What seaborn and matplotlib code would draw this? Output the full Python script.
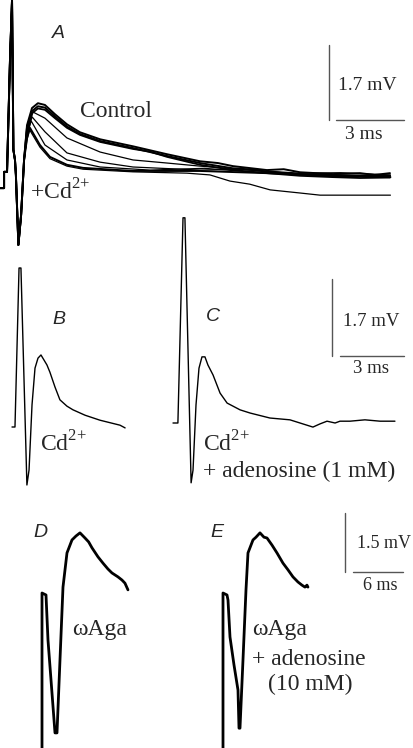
import matplotlib
matplotlib.use('Agg')
import matplotlib.pyplot as plt
import seaborn as sns

# ---- data (time in ms, voltage in mV, baseline = 0) ----

# A: shared stimulus artefact / fibre volley, then one decay per sweep
spikeA_t = [0.00, 0.18, 0.18, 0.31, 0.44, 0.53, 0.59, 0.66, 0.70, 0.81, 0.93, 1.06]
spikeA_v = [-0.23, -0.23, 0.14, 0.14, 2.68, 4.05, 0.64, 0.41, 0.07, -1.52, -0.84, 0.41]

ctrl1_t = [1.19, 1.41, 1.67, 1.98, 2.42, 2.95, 3.52, 4.41, 5.86, 7.36, 8.81, 9.6, 10.26, 11.76, 12.5, 13.22, 14.67, 15.86, 16.5, 17.18]
ctrl1_v = [1.20, 1.59, 1.70, 1.66, 1.45, 1.22, 1.04, 0.88, 0.72, 0.54, 0.38, 0.34, 0.27, 0.18, 0.20, 0.13, 0.09, 0.11, 0.07, 0.11]
ctrl2_t = [1.19, 1.41, 1.67, 1.98, 2.42, 2.95, 3.52, 4.41, 5.86, 7.36, 8.81, 10.26, 11.2, 11.76, 13.22, 14.67, 15.86, 17.18]
ctrl2_v = [1.15, 1.52, 1.63, 1.60, 1.40, 1.17, 1.00, 0.84, 0.68, 0.50, 0.34, 0.22, 0.19, 0.14, 0.08, 0.04, 0.05, 0.05]
ctrl3_t = [1.19, 1.41, 1.67, 1.98, 2.42, 2.95, 3.52, 4.41, 5.86, 6.6, 7.36, 8.81, 10.26, 11.76, 13.22, 14.67, 15.86, 17.18]
ctrl3_v = [1.10, 1.47, 1.58, 1.55, 1.36, 1.14, 0.98, 0.82, 0.66, 0.60, 0.48, 0.30, 0.18, 0.11, 0.05, 0.02, 0.00, 0.01]
mid1_t = [1.19, 1.45, 1.98, 2.95, 4.41, 5.86, 7.36, 8.81, 11.0, 13.2, 15.0, 17.2]
mid1_v = [1.05, 1.50, 1.36, 0.91, 0.59, 0.41, 0.34, 0.27, 0.18, 0.11, 0.12, 0.07]
mid2_t = [1.19, 1.41, 1.98, 2.95, 4.41, 5.86, 8.81, 10.5, 13.2, 17.2]
mid2_v = [1.00, 1.39, 1.05, 0.57, 0.36, 0.25, 0.18, 0.20, 0.09, 0.05]
mid3_t = [1.19, 1.37, 1.98, 2.95, 4.41, 6.61, 9.0, 11.0, 17.2]
mid3_v = [0.95, 1.30, 0.75, 0.41, 0.25, 0.18, 0.22, 0.14, 0.02]
cd1_t = [1.19, 1.32, 1.76, 2.20, 2.95, 3.66, 5.86, 8.81, 11.76, 14.5, 17.2]
cd1_v = [0.90, 1.14, 0.75, 0.48, 0.30, 0.23, 0.16, 0.16, 0.11, 0.05, 0.02]
cd2_t = [1.19, 1.30, 1.76, 2.20, 2.95, 3.66, 5.86, 8.24, 9.25, 10.13, 11.0, 11.9, 13.2, 14.1, 17.2]
cd2_v = [0.88, 1.10, 0.70, 0.44, 0.27, 0.20, 0.14, 0.11, 0.07, -0.07, -0.14, -0.27, -0.34, -0.39, -0.39]

# B: Cd2+
B_t = [0.00, 0.14, 0.33, 0.42, 0.70, 0.80, 0.94, 1.08, 1.22, 1.36, 1.50, 1.64, 1.78, 2.02, 2.25, 2.58, 2.86, 3.43, 4.13, 5.07, 5.31]
B_v = [0.00, 0.00, 3.51, 3.51, -1.28, -0.95, 0.49, 1.30, 1.52, 1.59, 1.48, 1.37, 1.21, 0.88, 0.60, 0.46, 0.38, 0.26, 0.15, 0.04, -0.02]

# C: Cd2+ + adenosine (1 mM)
C_t = [0.00, 0.23, 0.47, 0.56, 0.85, 0.94, 1.08, 1.22, 1.36, 1.50, 1.64, 1.88, 2.21, 2.54, 3.15, 3.62, 4.55, 5.49,
       6.57, 6.90, 7.23, 7.61, 7.84, 8.31, 9.01, 9.72, 10.42]
C_v = [0.00, 0.00, 4.53, 4.53, -1.32, -1.04, 0.40, 1.21, 1.46, 1.46, 1.28, 1.06, 0.66, 0.44, 0.29, 0.22, 0.11, 0.07,
       -0.09, -0.02, 0.04, 0.00, 0.04, 0.04, 0.07, 0.04, 0.04]

# D: omega-Aga
D_t = [0.00, 0.00, 0.48, 0.72, 1.08, 1.56, 1.80, 2.16, 2.52, 3.00, 3.60, 4.08, 4.56, 5.16, 5.6, 6.00, 6.72, 7.32,
       7.92, 8.40, 9.12, 9.60, 9.96, 10.32]
D_v = [-4.25, 0.00, -0.05, -1.20, -2.21, -3.56, -3.56, -1.70, 0.15, 1.02, 1.35, 1.45, 1.53, 1.40, 1.30, 1.15, 0.92,
       0.76, 0.61, 0.51, 0.41, 0.33, 0.25, 0.08]

# E: omega-Aga + adenosine (10 mM)
E_t = [0.00, 0.00, 0.48, 0.60, 0.84, 1.32, 1.80, 1.92, 2.04, 2.40, 2.76, 3.00, 3.60, 3.96, 4.44, 4.92, 5.28, 5.88,
       6.48, 7.20, 7.80, 8.40, 9.00, 9.48, 9.84, 10.08, 10.20]
E_v = [-4.25, 0.00, -0.05, -0.18, -1.12, -1.83, -2.47, -3.44, -3.44, -1.70, 0.08, 1.02, 1.35, 1.42, 1.53, 1.42, 1.40,
       1.22, 1.02, 0.76, 0.59, 0.41, 0.28, 0.20, 0.15, 0.20, 0.15]

# ---- figure ----
sns.set_style('white')
plt.rcParams['font.family'] = ['Liberation Serif', 'DejaVu Serif']
plt.rcParams['mathtext.fontset'] = 'custom'
plt.rcParams['mathtext.rm'] = 'Liberation Serif'

W, H = 413, 748
fig = plt.figure(figsize=(W / 100, H / 100), dpi=100)


def panel(name, x0, y0, kx, ky):
    # full-figure transparent axes, origin (t=0, v=0) at pixel (x0, y0)
    ax = fig.add_axes([0, 0, 1, 1], label=name)
    ax.set_xlim(-x0 / kx, (W - x0) / kx)
    ax.set_ylim((y0 - H) / ky, y0 / ky)
    ax.set_axis_off()
    ax.patch.set_alpha(0)
    return ax


def trace(ax, t, v, lw):
    sns.lineplot(x=t, y=v, ax=ax, color='black', lw=lw, sort=False, estimator=None)


def bar(ax, xs, ys):
    ax.plot(xs, ys, color='#555555', lw=1.0)


def label(x, y, s, size=17):
    fig.text(x / W, 1 - y / H, s, fontsize=size, va='baseline', ha='left')


def letter(x, y, s):
    fig.text(x / W, 1 - y / H, s, fontsize=14, va='baseline', ha='left',
             family='Liberation Sans', style='italic')


# A
axA = panel('A', 0, 178, 22.7, 44.0)
sweeps = [(ctrl1_t, ctrl1_v, 1.4), (ctrl2_t, ctrl2_v, 1.4), (ctrl3_t, ctrl3_v, 1.3),
          (mid1_t, mid1_v, 0.9), (mid2_t, mid2_v, 0.9), (mid3_t, mid3_v, 0.9),
          (cd1_t, cd1_v, 1.4), (cd2_t, cd2_v, 0.9)]
for t, v, lw in sweeps:
    trace(axA, spikeA_t + t, spikeA_v + v, lw)
bar(axA, [14.49, 14.49], [1.32, 3.02])
bar(axA, [14.80, 17.80], [1.32, 1.32])

# B, C
axB = panel('B', 12, 427, 21.3, 45.3)
trace(axB, B_t, B_v, 1.0)
axC = panel('C', 173, 423, 21.3, 45.3)
trace(axC, C_t, C_v, 1.0)
bar(axC, [7.46, 7.46], [1.48, 3.18])
bar(axC, [7.84, 10.84], [1.48, 1.48])

# D, E
axD = panel('D', 42, 593, 8.33, 39.3)
trace(axD, D_t, D_v, 2.0)
axE = panel('E', 223, 593, 8.33, 39.3)
trace(axE, E_t, E_v, 2.0)
bar(axE, [14.65, 14.65], [0.53, 2.03])
bar(axE, [15.61, 21.61], [0.53, 0.53])

# text
letter(52, 38, 'A')
letter(52, 324, 'B')
letter(206, 321, 'C')
letter(33, 537, 'D')
letter(210, 537, 'E')

cd = 'Cd$^{2{+}}$'
label(80, 117, 'Control')
label(30, 200, '+' + cd)
label(338, 90, '1.7 mV', 14)
label(345, 139, '3 ms', 14)

label(40, 451, cd)
label(203, 451, cd)
label(203, 477, '+ adenosine (1 mM)')
label(343, 326, '1.7 mV', 13.5)
label(353, 373, '3 ms', 13.5)

label(72, 635, '\u03c9Aga')
label(252, 635, '\u03c9Aga')
label(252, 665, '+ adenosine')
label(268, 690, '(10 mM)')
label(357, 548, '1.5 mV', 13)
label(363, 590, '6 ms', 13)

fig.savefig('out.png', dpi=100, facecolor='white')
